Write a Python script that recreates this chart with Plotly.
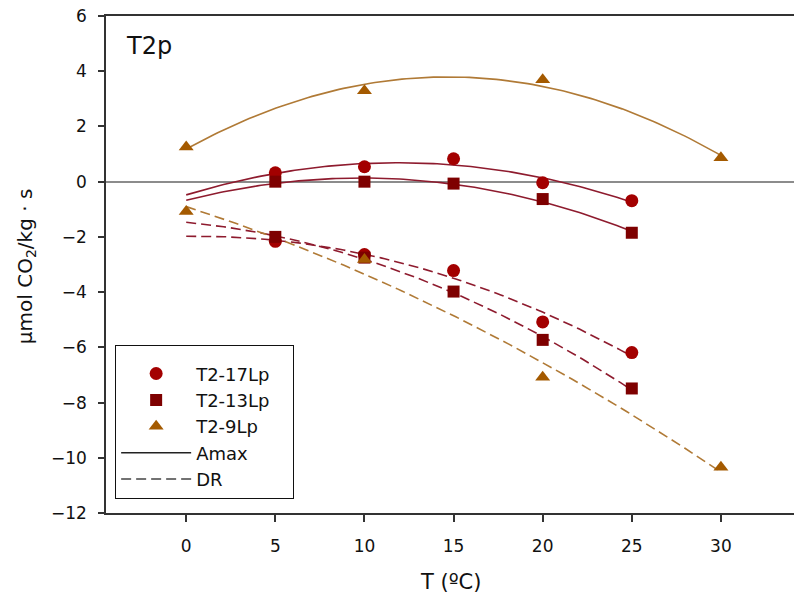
import numpy as np
import plotly.graph_objects as go

# Temperature (°C) and rates (µmol CO2 / kg·s)
temp_17 = [5, 10, 15, 20, 25]
amax_17 = [0.32, 0.54, 0.83, -0.04, -0.69]
dr_17 = [-2.16, -2.64, -3.22, -5.08, -6.19]

temp_13 = [5, 10, 15, 20, 25]
amax_13 = [0.0, 0.0, -0.07, -0.63, -1.85]
dr_13 = [-2.0, -2.75, -3.98, -5.73, -7.49]

temp_9 = [0, 10, 20, 30]
amax_9 = [1.26, 3.29, 3.69, 0.87]
dr_9 = [-1.08, -2.82, -7.08, -10.34]

series_names = ["T2-17Lp", "T2-13Lp", "T2-9Lp"]
x_ticks = [0, 5, 10, 15, 20, 25, 30]
y_ticks = [-12, -10, -8, -6, -4, -2, 0, 2, 4, 6]

FONT = "DejaVu Sans"
RED = "#A30000"
MAROON = "#7E0000"
BROWN = "#A45A00"
RED_LINE = "#8E1B2E"
BROWN_LINE = "#B07A36"
PAD = "\u00a0\u00a0\u00a0"  # keeps the legend frame wide

series = [
    (series_names[0], temp_17, amax_17, dr_17, RED, RED_LINE, "circle", 13),
    (series_names[1], temp_13, amax_13, dr_13, MAROON, RED_LINE, "square", 12),
    (series_names[2], temp_9, amax_9, dr_9, BROWN, BROWN_LINE, "triangle-up", 13),
]

fig = go.Figure()

# quadratic regression curves over 0..max T
for name, t, amax, dr, mcol, lcol, sym, size in series:
    xs = np.linspace(0, max(t), 120)
    for vals, dash in ((amax, "solid"), (dr, "10px,5px")):
        coef = np.polyfit(t, vals, 2)
        fig.add_trace(go.Scatter(
            x=xs, y=np.polyval(coef, xs), mode="lines",
            line=dict(color=lcol, width=1.6, dash=dash),
            showlegend=False, hoverinfo="skip"))

# measured points
for i, (name, t, amax, dr, mcol, lcol, sym, size) in enumerate(series):
    fig.add_trace(go.Scatter(
        x=t + t, y=amax + dr, mode="markers", name=name + PAD,
        marker=dict(symbol=sym, size=size, color=mcol, line=dict(width=0)),
        legendgroup=name))

# legend keys for line styles
fig.add_trace(go.Scatter(x=[None], y=[None], mode="lines", name="Amax",
                         line=dict(color="#222222", width=1.5), legendgroup="Amax"))
fig.add_trace(go.Scatter(x=[None], y=[None], mode="lines", name="DR",
                         line=dict(color="#444444", width=1.5, dash="10px,5px"),
                         legendgroup="DR"))

fig.update_layout(
    width=794, height=601,
    margin=dict(l=106, r=0, t=16, b=88),
    plot_bgcolor="white", paper_bgcolor="white",
    font=dict(family=FONT, size=17, color="#111111"),
    showlegend=True,
    legend=dict(
        x=0.013, y=0.338, xanchor="left", yanchor="top",
        bgcolor="white", bordercolor="#111111", borderwidth=1.2,
        font=dict(family=FONT, size=18, color="#111111"),
        traceorder="grouped", tracegroupgap=0, itemwidth=70,
        title=dict(text="\u00a0", font=dict(size=7)),
    ),
    xaxis=dict(
        range=[-4.5, 34.1], tickvals=x_ticks, ticks="outside", ticklen=7,
        tickwidth=1.5, tickcolor="#333333", showline=True, linecolor="#333333",
        linewidth=1.5, mirror=True, showgrid=False, zeroline=False,
        ticklabelstandoff=10, tickfont=dict(size=17),
    ),
    yaxis=dict(
        range=[-12, 6], tickvals=y_ticks, ticks="outside", ticklen=6,
        tickwidth=1.5, tickcolor="#333333", showline=True, linecolor="#333333",
        linewidth=1.5, showgrid=False, zeroline=True, zerolinecolor="#8C8C8C",
        zerolinewidth=1.5, ticklabelstandoff=8, tickfont=dict(size=17),
    ),
    annotations=[
        dict(text="T2p", xref="paper", yref="paper", x=0.026, y=0.94,
             xanchor="left", yanchor="middle", showarrow=False,
             font=dict(family=FONT, size=24, color="#111111")),
        dict(text="T (ºC)", xref="paper", yref="paper", x=0.5, y=-0.138,
             xanchor="center", yanchor="middle", showarrow=False,
             font=dict(family=FONT, size=21, color="#111111")),
        dict(text="μmol CO<sub>2</sub>/kg · s", xref="paper", yref="paper",
             x=-0.116, y=0.497, xanchor="center", yanchor="middle",
             textangle=-90, showarrow=False,
             font=dict(family=FONT, size=20, color="#111111")),
    ],
)

fig.write_html("out.html")
